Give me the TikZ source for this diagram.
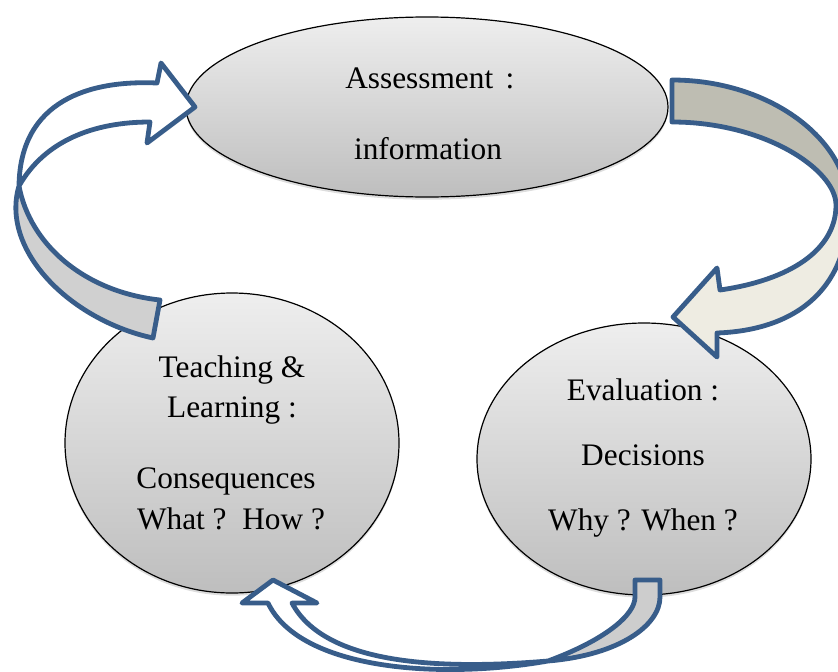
\documentclass[tikz,border=0pt]{standalone}
\usepackage{fontspec}
\setmainfont{Liberation Serif}
\usetikzlibrary{shapes.geometric,shadows}
\definecolor{arrowblue}{RGB}{56,93,138}
\definecolor{bubtop}{RGB}{238,238,238}
\definecolor{bubbot}{RGB}{190,190,190}
\definecolor{rtop}{RGB}{190,189,178}
\definecolor{rbot}{RGB}{238,236,226}
\definecolor{lgray}{RGB}{208,208,208}
\definecolor{bgray}{RGB}{205,205,205}
\begin{document}
\begin{tikzpicture}[x=0.75pt,y=-0.75pt,
  bub/.style={ellipse, draw=black, line width=0.9pt, top color=bubtop, bottom color=bubbot,
    inner sep=0pt, drop shadow={shadow xshift=0pt, shadow yshift=-2pt, opacity=0.22, fill=black!60}},
  lbl/.style={font=\fontsize{23.5}{28}\selectfont, anchor=base, inner sep=0pt},
  band/.style={draw=arrowblue, line width=3.6pt, line join=round}]
\useasboundingbox (0,0) rectangle (838,671);
\clip (0,0) rectangle (838,671);

% bubbles
\node[bub, minimum width=361.5pt, minimum height=135pt] (assess) at (427,107) {};
\node[bub, minimum width=250.5pt, minimum height=225pt] (teach) at (232,443) {};
\node[bub, minimum width=250.5pt, minimum height=204pt] (evalu) at (644,459) {};

% texts
\node[lbl, anchor=base west] (a1) at (345,88) {Assessment\hspace{0.4em}:};
\node[lbl] (a2) at (428,159) {information};
\node[lbl] (t1) at (232,377) {Teaching \&};
\node[lbl] (t2) at (232,417) {Learning :};
\node[lbl] (t3) at (226,488) {Consequences};
\node[lbl] (t4) at (231,529) {What ?\ \ How ?};
\node[lbl] (e1) at (643,400) {Evaluation :};
\node[lbl] (e2) at (643,465) {Decisions};
\node[lbl] (e3) at (643,530) {Why ? When ?};

% right arrow: assessment -> evaluation
\fill[rtop] (672,80) .. controls (770,80) and (848,140) .. (848,205) -- (836,205)
  .. controls (836,170) and (765,122) .. (672,122) -- cycle;
\fill[rbot] (848,205) .. controls (850,285) and (800,330) .. (717,333) -- (717,357) -- (673,317)
  -- (717,268) -- (720,290) .. controls (790,280) and (836,250) .. (836,205) -- cycle;
\draw[band] (672,80) .. controls (770,80) and (848,140) .. (848,205)
  .. controls (850,285) and (800,330) .. (717,333) -- (717,357) -- (673,317) -- (717,268) -- (720,290)
  .. controls (790,280) and (836,250) .. (836,205) .. controls (836,170) and (765,122) .. (672,122) -- cycle;

% left arrow: teaching -> assessment
\fill[lgray] (19,186) .. controls (0,250) and (70,320) .. (153,338) -- (160,300)
  .. controls (85,292) and (30,245) .. (19,186) -- cycle;
\fill[white] (19,186) .. controls (20,100) and (90,80) .. (157,83) -- (161,63) -- (195,107) -- (147,143)
  -- (150,122) .. controls (95,122) and (45,140) .. (19,186) -- cycle;
\draw[band] (160,300) .. controls (85,292) and (30,245) .. (19,186)
  .. controls (45,140) and (95,122) .. (150,122) -- (147,143) -- (195,107) -- (161,63) -- (157,83)
  .. controls (90,80) and (20,100) .. (19,186) .. controls (0,250) and (70,320) .. (153,338) -- cycle;

% bottom arrow: evaluation -> teaching
\fill[bgray] (635,580) -- (660,580) -- (660,597) .. controls (660,625) and (620,655) .. (548,661)
  .. controls (605,640) and (635,615) .. (635,597) -- cycle;
\fill[white] (548,661) .. controls (440,680) and (300,670) .. (268,603) -- (242,603) -- (273,580)
  -- (317,603) -- (292,603) .. controls (325,665) and (440,670) .. (548,661) -- cycle;
\draw[band] (635,580) -- (660,580) -- (660,597) .. controls (660,625) and (620,655) .. (548,661)
  .. controls (440,680) and (300,670) .. (268,603) -- (242,603) -- (273,580) -- (317,603) -- (292,603)
  .. controls (325,665) and (440,670) .. (548,661) .. controls (605,640) and (635,615) .. (635,597) -- cycle;
\end{tikzpicture}
\end{document}
